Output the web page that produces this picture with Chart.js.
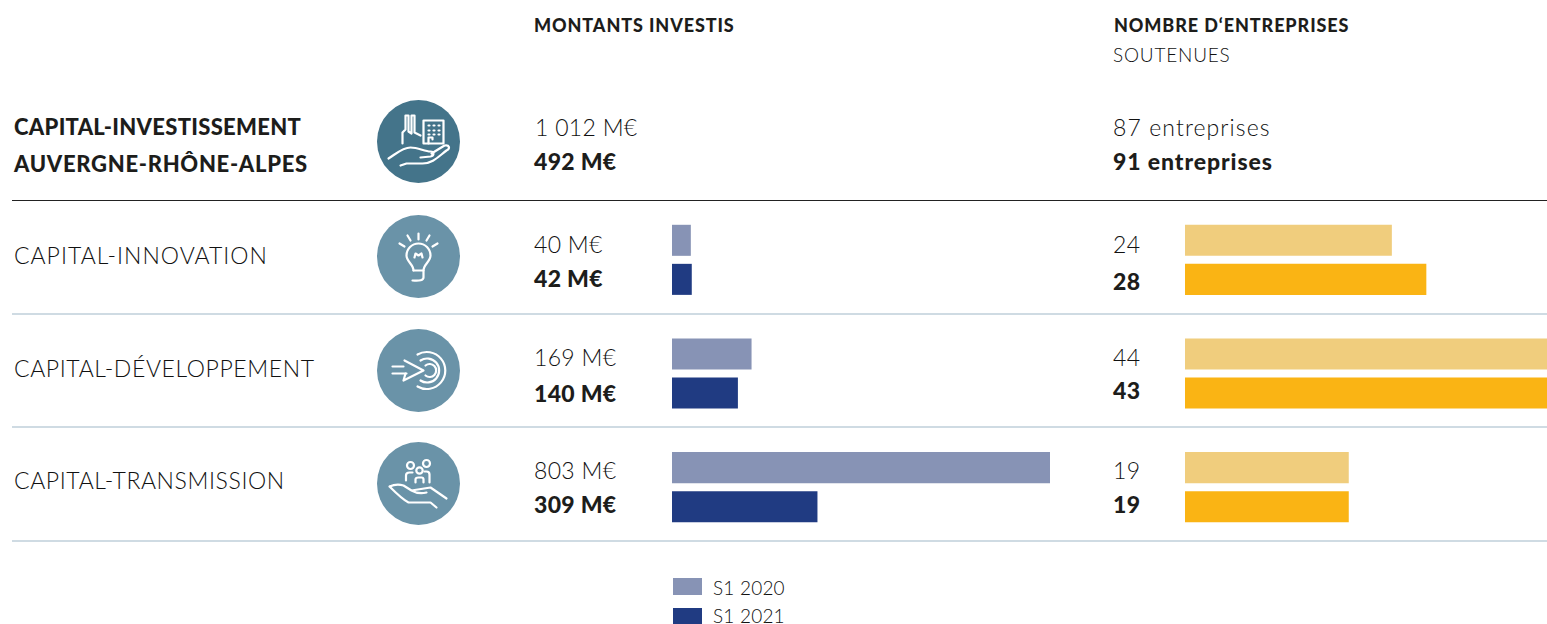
<!DOCTYPE html>
<html lang="fr">
<head>
<meta charset="utf-8">
<title>Capital-investissement Auvergne-Rhône-Alpes</title>
<script src="https://cdn.jsdelivr.net/npm/chart.js@4"></script>
<style>
  html, body { margin: 0; padding: 0; background: #fff; }
  body { width: 1547px; height: 624px; overflow: hidden; position: relative;
         font-family: "Lato", sans-serif; font-weight: 300; color: #111; }
  .t { position: absolute; white-space: nowrap; line-height: 1; transform: translateY(-50%); }
  .b { font-weight: 900; color: #1d1d1b; }
  .head { font-size: 18px; letter-spacing: 0.9px; }
  .sub { font-size: 19px; letter-spacing: 0.8px; }
  .legend { font-size: 19px; letter-spacing: 0.2px; }
  .row { font-size: 23px; letter-spacing: 0.6px; }
  .row.b { font-size: 22px; }
  .val { font-size: 23px; letter-spacing: 0.3px; }
  .rule { position: absolute; left: 12px; right: 0; height: 2px; background: #cfdbe3; }
  .rule.dark { height: 1px; background: #222; }
  .swatch { position: absolute; left: 673px; width: 29px; height: 17px; }
  canvas { position: absolute; }
  svg.icon { position: absolute; left: 377px; width: 83px; height: 83px; }
  svg.icon path, svg.icon rect.o, svg.icon circle.o { fill: none; stroke: #fff; stroke-width: 2.2; stroke-linecap: round; stroke-linejoin: round; }
</style>
</head>
<body>
<div class="t head b" style="left:534px;top:25px">MONTANTS INVESTIS</div>
<div class="t head b" style="left:1114px;top:25px">NOMBRE D‘ENTREPRISES</div>
<div class="t sub" style="left:1113px;top:54px">SOUTENUES</div>

<div class="t row b" style="left:14px;top:127px;letter-spacing:0.3px">CAPITAL-INVESTISSEMENT</div>
<div class="t row b" style="left:14px;top:164px;letter-spacing:0.7px">AUVERGNE-RHÔNE-ALPES</div>

<div class="rule dark" style="top:200px"></div>
<div class="rule" style="top:313px"></div>
<div class="rule" style="top:426px"></div>
<div class="rule" style="top:540px"></div>

<!-- icons, origin at the circle centre -->
<svg class="icon" style="top:100px" viewBox="-41.5 -41.5 83 83">
  <circle r="41.5" fill="#44748a"/>
  <path d="M-16 2V-9L-13 -12V-26H-10V-10L-7 -8V-26H-4V-9L2 -6"/>
  <rect class="o" x="5" y="-21" width="20" height="23"/>
  <path d="M10 2V-4H14V-2"/>
  <path d="M10 -16h1M15 -16h1M20 -16h1M10 -11h1M15 -11h1M20 -11h1M10 -7h1M15 -7h1M20 -7h1"/>
  <path d="M-30 17C-22 12 -16 6 -8 6C0 6 6 10 12 10C16 10 16 14 12 15L2 16M13 12L26 4C31 3 32 7 28 9C20 15 14 22 4 22L-12 22L-18 24"/>
</svg>
<svg class="icon" style="top:215px" viewBox="-41.5 -41.5 83 83">
  <circle r="41.5" fill="#6a93a8"/>
  <path d="M0 -23V-17M-11 -21L-8 -16M11 -21L8 -16M-19 -13L-14 -10M19 -13L14 -10"/>
  <path d="M-5 14C-5 8 -12 5 -12 -1A12 12 0 0 1 12 -1C12 5 5 8 5 14V21Q5 25 -6 24"/>
  <path d="M-5 14H5M-4 1L-3 -3L0 -1L3 -3L4 1"/>
</svg>
<svg class="icon" style="top:329px" viewBox="-41.5 -41.5 83 83">
  <circle r="41.5" fill="#6a93a8"/>
  <path d="M-26 -4H-15M-26 3H-12"/>
  <path d="M-14 -10L5 0L-15 10L-13 3"/>
  <path d="M-1 -16A18.5 18.5 0 1 1 -1 16"/>
  <path d="M2 -10A12 12 0 1 1 2 10"/>
  <path d="M7 -5A6.5 6.5 0 1 1 7 5"/>
</svg>
<svg class="icon" style="top:442px" viewBox="-41.5 -41.5 83 83">
  <circle r="41.5" fill="#6a93a8"/>
  <circle class="o" cx="-8" cy="-18" r="3.5"/>
  <circle class="o" cx="8" cy="-20" r="3.5"/>
  <circle class="o" cx="1" cy="-13" r="3.2"/>
  <path d="M-12.5 -3V-8Q-12.5 -11 -9 -11H-6M-3 -1V-4Q-3 -6 0 -6H3Q5 -6 5 -4V-1M11 -1V-9Q11 -12 8 -12H6"/>
  <path d="M-29 3Q-22 0 -15 2L-7 7L12 4L28 15M-29 3C-22 10 -16 16 -10 19L12 19L18 24M-7 7Q0 11 8 9"/>
</svg>

<canvas id="amountChart" width="378" height="341" style="left:672px;top:203px"></canvas>
<canvas id="companyChart" width="362" height="341" style="left:1185px;top:203px"></canvas>

<div class="swatch" style="top:578px;background:#8793b5"></div>
<div class="swatch" style="top:608px;background:#203b82"></div>
<div class="t legend" style="left:713px;top:587px">S1 2020</div>
<div class="t legend" style="left:713px;top:615px">S1 2021</div>

<script>
const categories = ["CAPITAL-INNOVATION", "CAPITAL-DÉVELOPPEMENT", "CAPITAL-TRANSMISSION"];
const seriesLabels = ["S1 2020", "S1 2021"];
const amounts2020 = [40, 169, 803];
const amounts2021 = [42, 140, 309];
const companies2020 = [24, 44, 19];
const companies2021 = [28, 43, 19];
const totalAmounts = ["1 012 M€", "492 M€"];
const totalCompanies = ["87 entreprises", "91 entreprises"];

const amountColors = ["#8793b5", "#203b82"];
const companyColors = ["#f0cd7d", "#fab414"];

document.addEventListener("DOMContentLoaded", () => {
  addText(totalAmounts[0], 535, 127, false);
  addText(totalAmounts[1], 534, 161, true);
  addText(totalCompanies[0], 1113, 127, false).style.letterSpacing = "1.1px";
  addText(totalCompanies[1], 1113, 161, true).style.letterSpacing = "0.9px";
  categories.forEach((name, i) => {
    const y = [244, 357, 470][i];
    const yAmount = [278, 393, 504][i];
    const yCount = [281, 390, 504][i];
    const label = addText(name, 14, [255, 368, 480][i], false, "row");
    if (i === 0) label.style.letterSpacing = "1px";
    addText(amounts2020[i] + " M€", 534, y, false);
    addText(amounts2021[i] + " M€", 534, yAmount, true);
    addText(String(companies2020[i]), 1113, y, false);
    addText(String(companies2021[i]), 1113, yCount, true);
  });
  buildBarChart("amountChart", [amounts2020, amounts2021], amountColors, 803);
  buildBarChart("companyChart", [companies2020, companies2021], companyColors, 42);
});

function addText(text, x, y, bold, cls) {
  const el = document.createElement("div");
  el.className = "t " + (cls || "val") + (bold ? " b" : "");
  el.style.left = x + "px";
  el.style.top = y + "px";
  el.textContent = text;
  document.body.appendChild(el);
  return el;
}

/* horizontal grouped bars, axes hidden: the canvas box is the plot area */
function buildBarChart(id, series, colors, xMax) {
  new Chart(document.getElementById(id), {
    type: "bar",
    data: {
      labels: categories,
      datasets: series.map((values, i) => ({
        label: seriesLabels[i],
        data: values,
        backgroundColor: colors[i],
        borderWidth: 0,
        categoryPercentage: 0.687,
        barPercentage: 0.795,
      })),
    },
    options: {
      indexAxis: "y",
      responsive: false,
      animation: false,
      layout: { padding: 0 },
      plugins: { legend: { display: false }, tooltip: { enabled: false } },
      scales: {
        x: { display: false, min: 0, max: xMax },
        y: { display: false },
      },
    },
  });
}
</script>
</body>
</html>
